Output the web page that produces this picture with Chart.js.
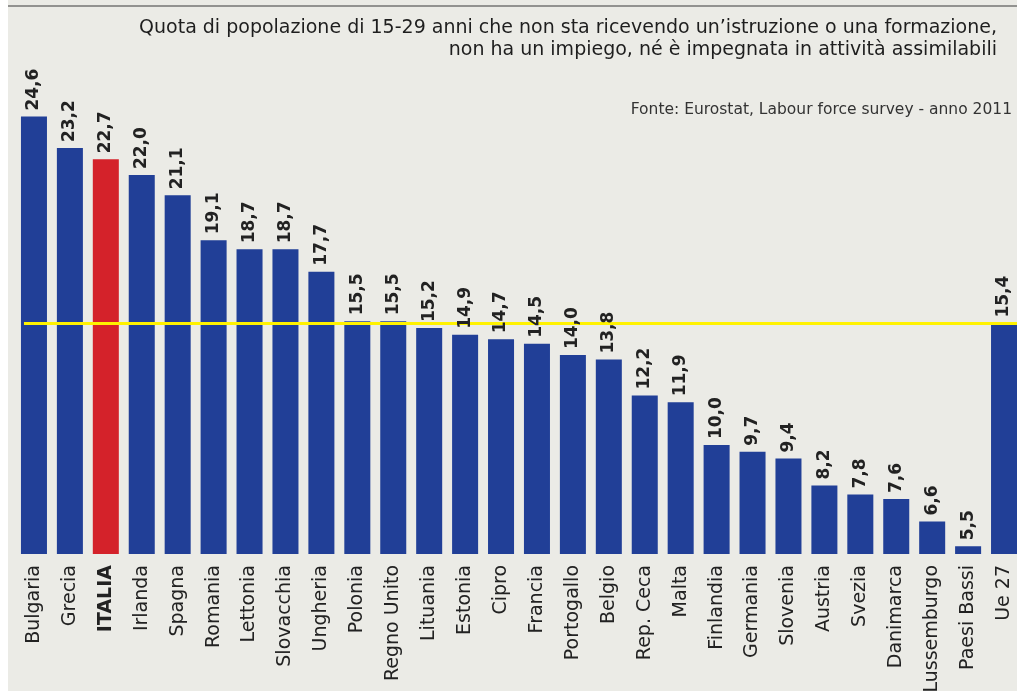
<!DOCTYPE html>
<html>
<head>
<meta charset="utf-8">
<script src="https://cdn.jsdelivr.net/npm/chart.js@4.4.1/dist/chart.umd.min.js"></script>
<style>
  html, body { margin: 0; padding: 0; background: #ffffff; overflow: hidden; }
  #wrap { width: 1017px; height: 691px; overflow: hidden; }
  canvas { display: block; }
</style>
</head>
<body>
<div id="wrap"><canvas id="chart" width="1022" height="691"></canvas></div>
<script>
// Data
const categories = [
    'Bulgaria', 'Grecia', 'ITALIA', 'Irlanda', 'Spagna', 'Romania', 'Lettonia',
    'Slovacchia', 'Ungheria', 'Polonia', 'Regno Unito', 'Lituania', 'Estonia',
    'Cipro', 'Francia', 'Portogallo', 'Belgio', 'Rep. Ceca', 'Malta', 'Finlandia',
    'Germania', 'Slovenia', 'Austria', 'Svezia', 'Danimarca', 'Lussemburgo',
    'Paesi Bassi', 'Ue 27'
];
const values = [
    24.6, 23.2, 22.7, 22.0, 21.1, 19.1, 18.7,
    18.7, 17.7, 15.5, 15.5, 15.2, 14.9,
    14.7, 14.5, 14.0, 13.8, 12.2, 11.9, 10.0,
    9.7, 9.4, 8.2, 7.8, 7.6, 6.6,
    5.5, 15.4
];
const highlightCategory = 'ITALIA';
const averageCategory = 'Ue 27';
const titleLines = [
    'Quota di popolazione di 15-29 anni che non sta ricevendo un\u2019istruzione o una formazione,',
    'non ha un impiego, n\u00e9 \u00e8 impegnata in attivit\u00e0 assimilabili'
];
const sourceText = 'Fonte: Eurostat, Labour force survey - anno 2011';

const BLUE = '#213f97';
const RED = '#d4222a';
const YELLOW = '#fff200';
const BG = '#ebebe6';
const FONT = '"DejaVu Sans", sans-serif';

const avgValue = values[categories.indexOf(averageCategory)];

// Background, top rule, title and source
const framePlugin = {
    id: 'frame',
    beforeDraw(chart) {
        const ctx = chart.ctx;
        ctx.save();
        ctx.fillStyle = '#ffffff';
        ctx.fillRect(0, 0, chart.width, chart.height);
        ctx.fillStyle = BG;
        ctx.fillRect(8, 0, chart.width - 8, chart.height);
        ctx.strokeStyle = '#3a3a3a';
        ctx.lineWidth = 1.2;
        ctx.beginPath();
        ctx.moveTo(8, 6);
        ctx.lineTo(chart.width, 6);
        ctx.stroke();
        ctx.restore();
    },
    afterDraw(chart) {
        const ctx = chart.ctx;
        ctx.save();
        ctx.fillStyle = '#1e1e1e';
        ctx.textAlign = 'right';
        ctx.textBaseline = 'alphabetic';
        ctx.font = '19px ' + FONT;
        ctx.fillText(titleLines[0], 997, 33);
        ctx.fillText(titleLines[1], 997, 55);
        ctx.font = '15.5px ' + FONT;
        ctx.fillStyle = '#333333';
        ctx.fillText(sourceText, 1012, 114);
        ctx.restore();
    }
};

// Average line and rotated value labels
const labelPlugin = {
    id: 'valueLabels',
    afterDatasetsDraw(chart) {
        const ctx = chart.ctx;
        const meta = chart.getDatasetMeta(0);
        const yScale = chart.scales.y;

        // UE27 reference line
        const first = meta.data[0];
        const yAvg = yScale.getPixelForValue(avgValue);
        ctx.save();
        ctx.strokeStyle = YELLOW;
        ctx.lineWidth = 3;
        ctx.beginPath();
        ctx.moveTo(first.x - first.width / 2 + 3, yAvg);
        ctx.lineTo(chart.width, yAvg);
        ctx.stroke();
        ctx.restore();

        ctx.save();
        ctx.fillStyle = '#222222';
        ctx.font = 'bold 17px ' + FONT;
        ctx.textAlign = 'left';
        ctx.textBaseline = 'middle';
        meta.data.forEach((bar, i) => {
            const txt = values[i].toFixed(1).replace('.', ',');
            ctx.save();
            ctx.translate(bar.x, bar.y - 6);
            ctx.rotate(-Math.PI / 2);
            ctx.fillText(txt, 0, 0);
            ctx.restore();
        });
        ctx.restore();
    }
};

new Chart(document.getElementById('chart'), {
    type: 'bar',
    data: {
        labels: categories,
        datasets: [{
            data: values,
            backgroundColor: categories.map(c => c === highlightCategory ? RED : BLUE),
            borderWidth: 0,
            barPercentage: 0.724,
            categoryPercentage: 1.0
        }]
    },
    options: {
        responsive: false,
        animation: false,
        events: [],
        layout: {
            padding: { left: 16, right: 0, top: 63, bottom: 0 }
        },
        plugins: {
            legend: { display: false },
            title: { display: false },
            tooltip: { enabled: false }
        },
        scales: {
            x: {
                grid: { display: false },
                border: { display: false },
                ticks: {
                    autoSkip: false,
                    minRotation: 90,
                    maxRotation: 90,
                    padding: 3,
                    color: '#222222',
                    font: (c) => ({
                        family: FONT,
                        size: 19,
                        weight: categories[c.index] === highlightCategory ? 'bold' : 'normal'
                    })
                },
                afterFit(scale) {
                    scale.height = 137;
                    scale.paddingLeft = 0;
                    scale.paddingRight = 0;
                }
            },
            y: {
                display: false,
                min: 5.16,
                max: 26.98
            }
        }
    },
    plugins: [framePlugin, labelPlugin]
});
</script>
</body>
</html>
